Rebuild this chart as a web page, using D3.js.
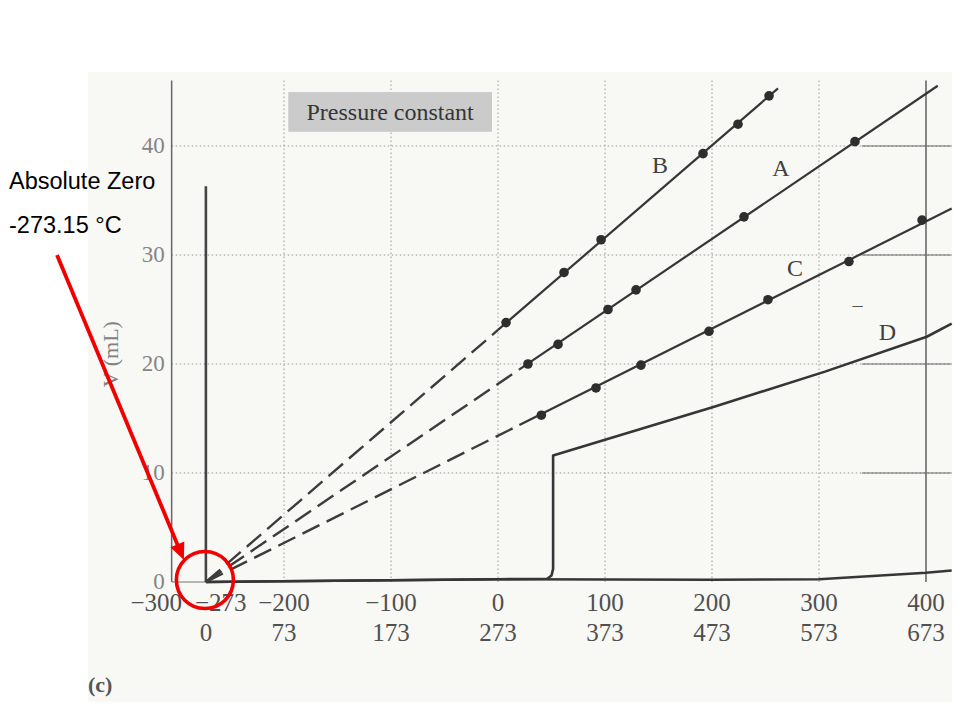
<!DOCTYPE html>
<html><head><meta charset="utf-8">
<script src="https://cdn.jsdelivr.net/npm/d3@7"></script>
<style>body{margin:0;background:#fff}</style>
</head><body><svg id="c" width="960" height="720"></svg>
<script>
// ---- data ----
const celsiusTicks = [-300, -273, -200, -100, 0, 100, 200, 300, 400];
const kelvinTicks = [0, 73, 173, 273, 373, 473, 573, 673];
const volumeTicks = [0, 10, 20, 30, 40];
const gridCelsius = [-200, -100, 0, 100, 200, 300, 400];
const gridVolume = [10, 20, 30, 40];
const seriesNames = ["B", "A", "C"];
const seriesB = [[7.5, 23.8], [61.7, 28.4], [96.3, 31.4], [191.6, 39.3], [224.3, 42.0], [253.3, 44.6]];
const seriesA = [[28.0, 20.0], [56.1, 21.8], [102.8, 25.0], [129.0, 26.8], [229.9, 33.5], [333.6, 40.4]];
const seriesC = [[40.5, 15.3], [91.6, 17.8], [133.6, 19.9], [197.2, 23.0], [252.3, 25.9], [328.0, 29.4], [396.3, 33.2]];
const lineEnds = [261.7, 411, 424];      // °C where each drawn line stops
const dashEnds = [0, 20, 20];            // °C where the extrapolated (dashed) part ends
const seriesD = [[-273, 0], [0, 0.25], [46, 0.3], [50, 0.6], [51.5, 1.2], [51.5, 11.6], [101.6, 13.1], [202.8, 16.1], [305.6, 19.3], [400.7, 22.5], [424, 23.7]];
const baseline = [[-273, 0], [0, 0.25], [200, 0.2], [300, 0.25], [400, 0.85], [424, 1.05]];
const absoluteZeroC = -273;
const lineLabels = [["B", 151.4, 38.3], ["A", 264.5, 38.0], ["C", 277.6, 28.8], ["D", 364, 23.0]];
const verticalLineTop = 36.3;

// ---- scales ----
const svg = d3.select("#c");
const x = d3.scaleLinear().domain([-300, 400]).range([177, 926]);
const y = d3.scaleLinear().domain([0, 40]).range([582, 146]);
const xMin = -305, xMax = 424, yTop = 46;
const ink = "#363636";
const serif = "'Liberation Serif', 'DejaVu Serif', serif";

// scanned page background
svg.append("rect").attr("x", 88).attr("y", 72).attr("width", 864).attr("height", 630).attr("fill", "#f8f8f5");

// grid
const g = svg.append("g");
g.selectAll(".gv").data(gridCelsius).join("line")
  .attr("x1", d => x(d)).attr("x2", d => x(d)).attr("y1", y(0)).attr("y2", y(yTop))
  .attr("stroke", d => d === 400 ? "#555" : "#9a9a9a")
  .attr("stroke-width", d => d === 400 ? 1.4 : 1)
  .attr("stroke-dasharray", d => d === 400 ? null : "1.5,2.5");
g.selectAll(".gh").data(gridVolume).join("line")
  .attr("x1", x(xMin)).attr("x2", x(xMax)).attr("y1", d => y(d)).attr("y2", d => y(d))
  .attr("stroke", "#9a9a9a").attr("stroke-width", 1).attr("stroke-dasharray", "1.5,2.5");
g.selectAll(".ghs").data(gridVolume).join("line")
  .attr("x1", x(340)).attr("x2", x(xMax)).attr("y1", d => y(d)).attr("y2", d => y(d))
  .attr("stroke", "#666").attr("stroke-width", 1.1);

// left axis
svg.append("line").attr("x1", x(xMin)).attr("x2", x(xMin)).attr("y1", y(0)).attr("y2", y(yTop))
  .attr("stroke", "#666").attr("stroke-width", 1.5);
svg.append("line").attr("x1", x(xMin)).attr("x2", x(absoluteZeroC)).attr("y1", y(0)).attr("y2", y(0))
  .attr("stroke", "#777").attr("stroke-width", 1.2);

// pressure constant box
svg.append("rect").attr("x", x(-196)).attr("y", y(44.95))
  .attr("width", x(-5.6) - x(-196)).attr("height", y(41.3) - y(44.95))
  .attr("fill", "#cbcbcb");
svg.append("text").attr("x", (x(-196) + x(-5.6)) / 2).attr("y", y(41.3) - 12)
  .attr("text-anchor", "middle").attr("font-family", serif).attr("font-size", 24)
  .attr("fill", "#353535").text("Pressure constant");

// vertical line at absolute zero
svg.append("line").attr("x1", x(absoluteZeroC)).attr("x2", x(absoluteZeroC))
  .attr("y1", y(0)).attr("y2", y(verticalLineTop)).attr("stroke", "#444").attr("stroke-width", 2.6);

const line = d3.line().x(d => x(d[0])).y(d => y(d[1]));

// baseline and D
svg.append("path").attr("d", line(baseline)).attr("fill", "none").attr("stroke", ink).attr("stroke-width", 2.6);
svg.append("path").attr("d", line(seriesD))
  .attr("fill", "none").attr("stroke", ink).attr("stroke-width", 2.6).attr("stroke-linejoin", "round");

// B, A, C lines through absolute zero
const allSeries = [seriesB, seriesA, seriesC];
allSeries.forEach((s, i) => {
  let num = 0, den = 0;
  s.forEach(([t, v]) => { const k = t - absoluteZeroC; num += k * v; den += k * k; });
  const slope = num / den;
  const f = t => slope * (t - absoluteZeroC);
  svg.append("path").attr("d", line([[absoluteZeroC, 0], [dashEnds[i], f(dashEnds[i])]]))
    .attr("fill", "none").attr("stroke", "#3c3c3c").attr("stroke-width", 2.4).attr("stroke-dasharray", "19,8");
  svg.append("path").attr("d", line([[dashEnds[i], f(dashEnds[i])], [lineEnds[i], f(lineEnds[i])]]))
    .attr("fill", "none").attr("stroke", ink).attr("stroke-width", 2.2);
  svg.selectAll(".dot" + i).data(s).join("circle")
    .attr("cx", d => x(d[0])).attr("cy", d => y(d[1])).attr("r", 4.8).attr("fill", "#2e2e2e");
});

// line labels
svg.selectAll(".ll").data(lineLabels).join("text")
  .attr("x", d => x(d[1])).attr("y", d => y(d[2])).attr("dy", "0.35em")
  .attr("text-anchor", "middle").attr("font-family", serif).attr("font-size", 24).attr("fill", "#404040")
  .text(d => d[0]);
svg.append("text").attr("x", x(336)).attr("y", y(24.8)).attr("text-anchor", "middle")
  .attr("font-family", serif).attr("font-size", 20).attr("fill", "#555").text("–");

// y tick labels
svg.selectAll(".yt").data(volumeTicks).join("text")
  .attr("x", x(xMin) - 7).attr("y", d => y(d)).attr("dy", "0.3em").attr("text-anchor", "end")
  .attr("font-family", serif).attr("font-size", 23).attr("fill", "#858585").text(d => d);
svg.append("text").attr("transform", `translate(118,${y(20.9)}) rotate(-90)`)
  .attr("text-anchor", "middle").attr("font-family", serif).attr("font-size", 22)
  .attr("fill", "#808080").text("V (mL)");

// x tick labels (Celsius and Kelvin)
svg.selectAll(".xc").data(celsiusTicks).join("text")
  .attr("x", d => d === -300 ? x(d) + 5 : d === -273 ? x(d) - 11 : x(d))
  .attr("y", y(0) + 29)
  .attr("text-anchor", d => d === -300 ? "end" : d === -273 ? "start" : "middle")
  .attr("font-family", serif).attr("font-size", 25).attr("fill", "#505050")
  .text(d => d < 0 ? "−" + Math.abs(d) : d);
svg.selectAll(".xk").data(kelvinTicks).join("text")
  .attr("x", d => x(d + absoluteZeroC)).attr("y", y(0) + 59)
  .attr("text-anchor", "middle").attr("font-family", serif).attr("font-size", 25).attr("fill", "#505050")
  .text(d => d);
svg.append("text").attr("x", 88).attr("y", 692).attr("font-family", serif).attr("font-size", 22)
  .attr("font-weight", "bold").attr("fill", "#555").text("(c)");

// annotation
const sans = "'Liberation Sans', Arial, sans-serif";
svg.append("text").attr("x", 9).attr("y", 189).attr("font-family", sans).attr("font-size", 23.5).attr("fill", "#000").text("Absolute Zero");
svg.append("text").attr("x", 9).attr("y", 233).attr("font-family", sans).attr("font-size", 23.5).attr("fill", "#000").text("-273.15 °C");
const red = "#f20000";
const x0 = 57, y0 = 255, tx = x(absoluteZeroC) - 22, ty = y(0) - 22;
const dx = tx - x0, dy = ty - y0, L = Math.hypot(dx, dy), ux = dx / L, uy = dy / L;
const hl = 17, hw = 7.5;
svg.append("line").attr("x1", x0).attr("y1", y0).attr("x2", tx - ux * hl * 0.8).attr("y2", ty - uy * hl * 0.8)
  .attr("stroke", red).attr("stroke-width", 3.8);
svg.append("polygon").attr("points", [
  [tx, ty],
  [tx - ux * hl - uy * hw, ty - uy * hl + ux * hw],
  [tx - ux * hl + uy * hw, ty - uy * hl - ux * hw]
].map(p => p.join(",")).join(" ")).attr("fill", red);
svg.append("circle").attr("cx", x(absoluteZeroC) - 1).attr("cy", y(0) - 2).attr("r", 28.5)
  .attr("fill", "none").attr("stroke", red).attr("stroke-width", 3.6);
</script></body></html>
